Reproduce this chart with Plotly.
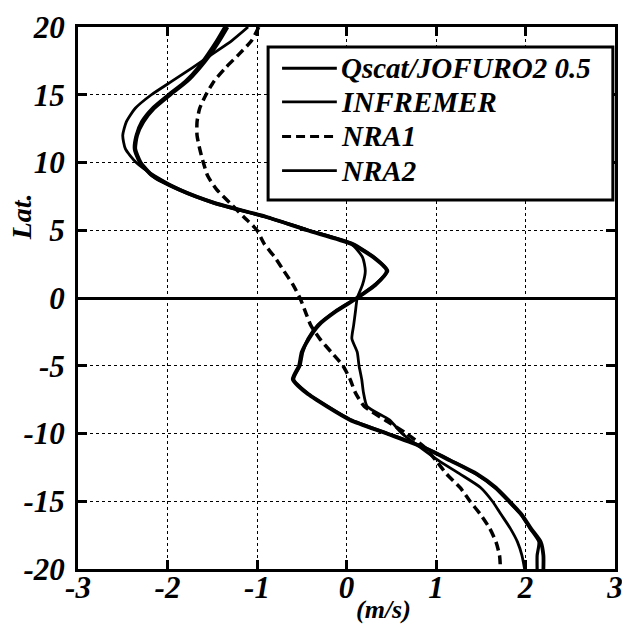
import plotly.graph_objects as go

lat = [20, 19, 18, 17, 16, 15, 14, 13, 12, 11, 10, 9, 8, 7, 6, 5, 4, 3, 2, 1, 0,
       -1, -2, -3, -4, -5, -6, -7, -8, -9, -10, -11, -12, -13, -14, -15, -16, -17, -18, -19, -20]

qscat = [-1.33, -1.42, -1.52, -1.64, -1.78, -1.97, -2.15, -2.27, -2.34, -2.36, -2.3, -2.16, -1.87, -1.47, -0.9, -0.44, 0.05, 0.3, 0.45, 0.33, 0.12,
         -0.12, -0.31, -0.42, -0.5, -0.53, -0.6, -0.45, -0.22, 0.04, 0.45, 0.85, 1.16, 1.46, 1.67, 1.82, 1.96, 2.06, 2.17, 2.2, 2.2]

infremer = [-1.36, -1.45, -1.55, -1.66, -1.8, -1.99, -2.17, -2.29, -2.35, -2.37, -2.31, -2.17, -1.88, -1.48, -0.91, -0.43, 0.07, 0.31, 0.46, 0.32, 0.11,
            -0.13, -0.32, -0.43, -0.49, -0.52, -0.59, -0.44, -0.21, 0.05, 0.46, 0.86, 1.17, 1.45, 1.66, 1.81, 1.95, 2.05, 2.15, 2.13, 2.13]

nra1 = [-0.98, -1.06, -1.2, -1.35, -1.48, -1.57, -1.64, -1.67, -1.67, -1.64, -1.6, -1.55, -1.45, -1.3, -1.15, -1.0, -0.92, -0.8, -0.7, -0.6, -0.52,
        -0.46, -0.4, -0.3, -0.17, -0.04, 0.04, 0.1, 0.2, 0.43, 0.67, 0.87, 1.0, 1.12, 1.27, 1.38, 1.5, 1.6, 1.67, 1.71, 1.72]

nra2 = [-1.1, -1.28, -1.5, -1.72, -1.95, -2.18, -2.36, -2.46, -2.5, -2.47, -2.35, -2.14, -1.86, -1.46, -0.91, -0.42, 0.05, 0.18, 0.21, 0.18, 0.12,
        0.1, 0.08, 0.06, 0.12, 0.14, 0.17, 0.19, 0.23, 0.48, 0.62, 0.82, 1.03, 1.27, 1.5, 1.63, 1.73, 1.83, 1.91, 1.96, 1.99]

x_ticks = [-3, -2, -1, 0, 1, 2, 3]
x_labels = ["-3", "-2", "-1", "0", "1", "2", "3"]
y_ticks = [-20, -15, -10, -5, 0, 5, 10, 15, 20]
y_labels = ["-20", "-15", "-10", "-5", "0", "5", "10", "15", "20"]

names = ["Qscat/JOFURO2 0.5", "INFREMER", "NRA1", "NRA2"]
series = [qscat, infremer, nra1, nra2]
widths = [3.8, 3.2, 3.5, 2.8]
dashes = ["solid", "solid", "9px,5px", "solid"]

FONT = "Liberation Serif"

fig = go.Figure()
for name, vals, w, d in zip(names, series, widths, dashes):
    fig.add_trace(go.Scatter(x=vals, y=lat, mode="lines", name=name,
                             line=dict(color="black", width=w, dash=d, shape="spline", smoothing=0.6),
                             showlegend=False, hoverinfo="skip"))

axis_common = dict(
    showline=True, linecolor="black", linewidth=3, mirror="allticks",
    ticks="inside", ticklen=9, tickwidth=3, tickcolor="black",
    showgrid=True, gridcolor="black", gridwidth=1, griddash="dot",
    automargin=False, ticklabeloverflow="allow",
    tickfont=dict(family=FONT, size=31, color="black", weight="bold", style="italic"),
)

fig.update_layout(
    width=622, height=626,
    margin=dict(l=78, r=7, t=27, b=57, autoexpand=False),
    paper_bgcolor="white", plot_bgcolor="white",
    xaxis=dict(range=[-3, 3], tickvals=x_ticks, ticktext=x_labels, zeroline=False,
               ticklabelstandoff=-11, **axis_common),
    yaxis=dict(range=[-20, 20], tickvals=y_ticks, ticktext=y_labels, zeroline=True,
               zerolinecolor="black", zerolinewidth=2.5, ticklabelstandoff=4, **axis_common),
)

# axis titles
fig.add_annotation(text="Lat.", xref="paper", yref="paper", x=-0.105, y=0.65,
                   textangle=-90, showarrow=False, xanchor="center", yanchor="middle",
                   font=dict(family=FONT, size=28, color="black", weight="bold", style="italic"))
fig.add_annotation(text="(m/s)", xref="paper", yref="paper", x=0.568, y=-0.074,
                   showarrow=False, xanchor="center", yanchor="middle",
                   font=dict(family=FONT, size=26, color="black", weight="bold", style="italic"))

# legend drawn as a box with sample lines
fig.add_shape(type="rect", xref="paper", yref="paper", x0=0.354, x1=0.996, y0=0.681, y1=0.963,
              line=dict(color="black", width=3), fillcolor="white", layer="above")
row_y = [0.924, 0.862, 0.798, 0.735]
leg_w = [3, 2.8, 3, 2.8]
for name, yy, w, d in zip(names, row_y, leg_w, dashes):
    fig.add_shape(type="line", xref="paper", yref="paper", x0=0.380, x1=0.482, y0=yy, y1=yy,
                  line=dict(color="black", width=w, dash=d), layer="above")
    fig.add_annotation(text=name, xref="paper", yref="paper", x=0.486, y=yy,
                       showarrow=False, xanchor="left", yanchor="middle",
                       font=dict(family=FONT, size=29, color="black", weight="bold", style="italic"))

fig.write_html("out.html", config={"displayModeBar": False},
               post_script="document.body.style.margin='0';document.body.style.padding='0';")
